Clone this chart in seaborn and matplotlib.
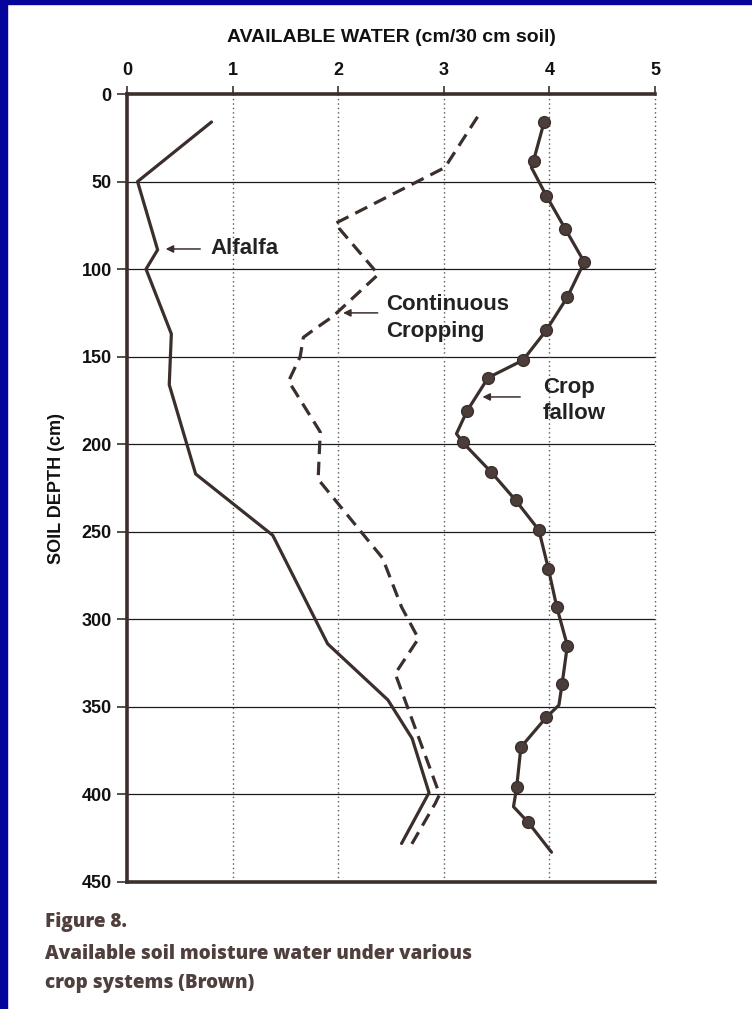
import numpy as np
import pandas as pd
import matplotlib
matplotlib.use("Agg")
import matplotlib.pyplot as plt
import matplotlib.patches as mpatches
import seaborn as sns

# ── data ──────────────────────────────────────────────────────────────────────
alfalfa_depth = [16, 50, 89, 100, 137, 166, 217, 252, 314, 346, 368, 399, 428]
alfalfa_water = [0.80, 0.10, 0.29, 0.18, 0.42, 0.40, 0.65, 1.38, 1.90, 2.47, 2.70, 2.86, 2.60]

cont_depth = [13, 42, 74, 103, 127, 135, 139, 150, 164, 193, 220, 251, 265, 293, 311, 331, 400, 405, 429]
cont_water = [3.32, 3.01, 1.97, 2.38, 1.95, 1.76, 1.67, 1.64, 1.53, 1.83, 1.81, 2.23, 2.42, 2.60, 2.76, 2.54, 2.96, 2.92, 2.69]

fallow_depth = [16, 38, 42, 58, 77, 96, 116, 135, 152, 162, 181, 194, 199, 216, 232, 249,
                271, 293, 315, 337, 349, 356, 373, 396, 407, 416, 433]
fallow_water = [3.95, 3.85, 3.83, 3.97, 4.15, 4.33, 4.17, 3.97, 3.75, 3.42, 3.22, 3.12, 3.18, 3.45, 3.68, 3.90,
                3.99, 4.07, 4.17, 4.12, 4.09, 3.97, 3.73, 3.69, 3.66, 3.80, 4.02]
fallow_marked = [1, 1, 0, 1, 1, 1, 1, 1, 1, 1, 1, 0, 1, 1, 1, 1,
                 1, 1, 1, 1, 0, 1, 1, 1, 0, 1, 0]

x_ticks = [0, 1, 2, 3, 4, 5]
y_ticks = [0, 50, 100, 150, 200, 250, 300, 350, 400, 450]

INK = "#3b2f2c"
BLUE = "#05059c"

sns.set_theme(style="white")
plt.rcParams["font.family"] = ["Liberation Sans", "DejaVu Sans"]
NARROW = ["Liberation Sans Narrow", "Liberation Sans", "DejaVu Sans"]

alf = pd.DataFrame({"water": alfalfa_water, "depth": alfalfa_depth})
con = pd.DataFrame({"water": cont_water, "depth": cont_depth})
fal = pd.DataFrame({"water": fallow_water, "depth": fallow_depth, "marked": fallow_marked})

fig = plt.figure(figsize=(7.52, 10.09), dpi=100)
ax = fig.add_axes([127 / 752, 1 - 882 / 1009, 528 / 752, 788 / 1009])

# grid: solid horizontal, dotted vertical
for d in y_ticks[1:-1]:
    ax.axhline(d, color="#1a1a1a", lw=0.9, zorder=1)
for w in x_ticks[1:]:
    ax.axvline(w, color="#555555", lw=1.0, linestyle=(0, (1, 2.2)), zorder=1, clip_on=False)

sns.lineplot(data=alf, x="water", y="depth", sort=False, estimator=None,
             color=INK, lw=2.3, ax=ax, zorder=3)
sns.lineplot(data=con, x="water", y="depth", sort=False, estimator=None,
             color=INK, lw=2.3, linestyle=(0, (4.2, 2.4)), ax=ax, zorder=3)
sns.lineplot(data=fal, x="water", y="depth", sort=False, estimator=None,
             color=INK, lw=2.3, ax=ax, zorder=3)
sns.scatterplot(data=fal[fal["marked"] == 1], x="water", y="depth",
                color="#4a3d3a", edgecolor=INK, s=72, linewidth=1.0, ax=ax, zorder=4)

ax.set_xlim(0, 5)
ax.set_ylim(450, 0)
ax.xaxis.tick_top()
ax.xaxis.set_label_position("top")
ax.set_xticks(x_ticks)
ax.set_yticks(y_ticks)
ax.tick_params(axis="x", which="both", top=True, bottom=False, direction="out",
               length=6, width=1.2, color=INK, pad=5, labelsize=13)
ax.tick_params(axis="y", left=True, direction="out", length=7, width=1.2,
               color=INK, pad=4, labelsize=13)
for lab in ax.get_xticklabels() + ax.get_yticklabels():
    lab.set_fontweight("bold")
    lab.set_color("#111111")

for side in ["top", "left", "bottom"]:
    ax.spines[side].set_color(INK)
    ax.spines[side].set_linewidth(2.6)
ax.spines["right"].set_visible(False)

ax.set_xlabel("AVAILABLE WATER (cm/30 cm soil)", family=NARROW, fontsize=14,
              fontweight="bold", labelpad=14, color="#111111")
ax.set_ylabel("SOIL DEPTH (cm)", family=NARROW, fontsize=13, fontweight="bold",
              labelpad=12, color="#111111")

# labels with arrows
arrow = dict(arrowstyle="-|>", color=INK, lw=1.1, mutation_scale=11)
lbl = dict(family=NARROW, fontsize=16, fontweight="bold", va="center", ha="left",
           color="#222222", linespacing=1.35)
ax.annotate("", xy=(0.34, 88.5), xytext=(0.72, 88.5), arrowprops=arrow)
ax.text(0.79, 88.5, "Alfalfa", **lbl)
ax.annotate("", xy=(2.02, 125), xytext=(2.40, 125), arrowprops=arrow)
ax.text(2.45, 128, "Continuous\nCropping", **lbl)
ax.annotate("", xy=(3.34, 173), xytext=(3.75, 173), arrowprops=arrow)
ax.text(3.94, 175, "Crop\nfallow", **lbl)

# caption
cap = dict(family=["Open Sans", "DejaVu Sans"], fontsize=13.6, fontweight="heavy",
           color="#4f403d", ha="left", va="baseline")
fig.text(45 / 752, 1 - 927 / 1009, "Figure 8.", **cap)
fig.text(45 / 752, 1 - 959 / 1009, "Available soil moisture water under various", **cap)
fig.text(45 / 752, 1 - 988 / 1009, "crop systems (Brown)", **cap)

# blue frame
fig.patches.append(mpatches.Rectangle((0, 0), 7 / 752, 1, transform=fig.transFigure,
                                      color=BLUE, zorder=10))
fig.patches.append(mpatches.Rectangle((0, 1 - 4 / 1009), 1, 4 / 1009, transform=fig.transFigure,
                                      color=BLUE, zorder=10))

fig.savefig("out.png", dpi=100)
plt.close(fig)
